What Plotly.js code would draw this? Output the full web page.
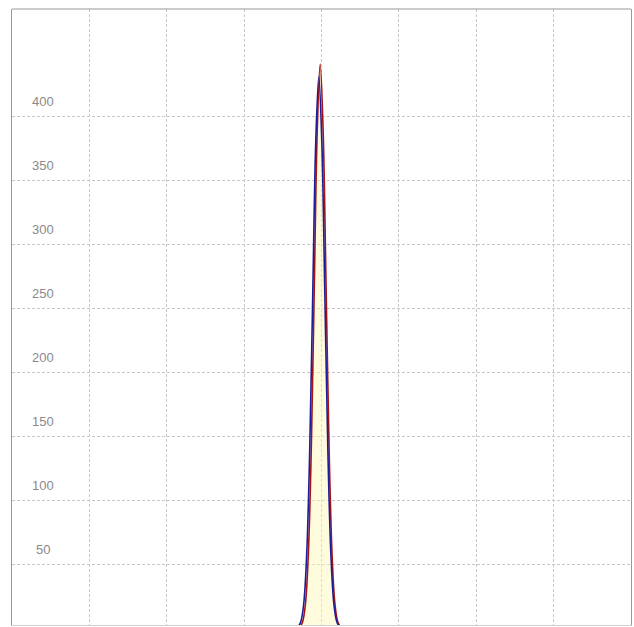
<!DOCTYPE html>
<html>
<head>
<meta charset="utf-8">
<script src="https://cdn.plot.ly/plotly-3.0.1.min.js"></script>
<style>html,body{margin:0;padding:0;background:#fff;}#chart{width:634px;height:627px;}</style>
</head>
<body>
<div id="chart"></div>
<script>
// Series
var redX = [-0.321, -0.283, -0.245, -0.207, -0.169, -0.131, -0.093, -0.055, -0.017, 0.021, 0.059, 0.097, 0.135, 0.173, 0.211, 0.249, 0.287];
var redY = [0.1, 1.0, 4.9, 19.4, 59.7, 143.2, 267.5, 389.2, 441, 389.2, 267.5, 143.2, 59.7, 19.4, 4.9, 1.0, 0.1];
var blueX = [-0.347, -0.308, -0.269, -0.230, -0.191, -0.152, -0.113, -0.074, -0.035, 0.004, 0.043, 0.082, 0.121, 0.160, 0.199, 0.238, 0.277];
var blueY = [0.1, 0.9, 4.8, 18.9, 58.3, 139.9, 261.4, 380.4, 431, 380.4, 261.4, 139.9, 58.3, 18.9, 4.8, 0.9, 0.1];
var yTicks = [50, 100, 150, 200, 250, 300, 350, 400];
var xTicks = [-3, -2, -1, 0, 1, 2, 3];

var traces = [
  {x: redX, y: redY, type: 'scatter', mode: 'lines', fill: 'tozeroy',
   fillcolor: 'rgba(255,246,180,0.45)',
   line: {color: '#a31515', width: 1.6, shape: 'spline', smoothing: 1}, hoverinfo: 'skip'},
  {x: blueX, y: blueY, type: 'scatter', mode: 'lines',
   line: {color: '#1c1c9c', width: 1.6, shape: 'spline', smoothing: 1}, hoverinfo: 'skip'}
];

var annotations = yTicks.map(function (v) {
  return {xref: 'paper', yref: 'y', x: 0.0501, y: v, xanchor: 'center', yanchor: 'middle',
    yshift: 15, text: String(v), showarrow: false,
    font: {family: 'Liberation Sans, Arial, sans-serif', size: 13, color: '#8a8a8a'}};
});

var layout = {
  width: 634, height: 627,
  margin: {l: 12, r: 3, t: 9, b: 2},
  paper_bgcolor: '#fff', plot_bgcolor: '#fff',
  showlegend: false,
  xaxis: {range: [-4, 4], tickvals: xTicks, showticklabels: false, ticks: '',
    showgrid: true, gridcolor: '#c8c8c8', griddash: '3px,2px', gridwidth: 1,
    zeroline: false, showline: true, linecolor: '#d0d0d0', linewidth: 1, mirror: false},
  yaxis: {range: [2.5, 484], tickvals: yTicks, showticklabels: false, ticks: '',
    showgrid: true, gridcolor: '#c8c8c8', griddash: '3px,2px', gridwidth: 1,
    zeroline: false, showline: true, linecolor: '#999', linewidth: 1, mirror: true},
  shapes: [{type: 'line', xref: 'paper', yref: 'paper', x0: 0, x1: 1, y0: 1, y1: 1,
    line: {color: '#999', width: 1}}],
  annotations: annotations
};

Plotly.newPlot('chart', traces, layout, {displayModeBar: false, staticPlot: true});
</script>
</body>
</html>
